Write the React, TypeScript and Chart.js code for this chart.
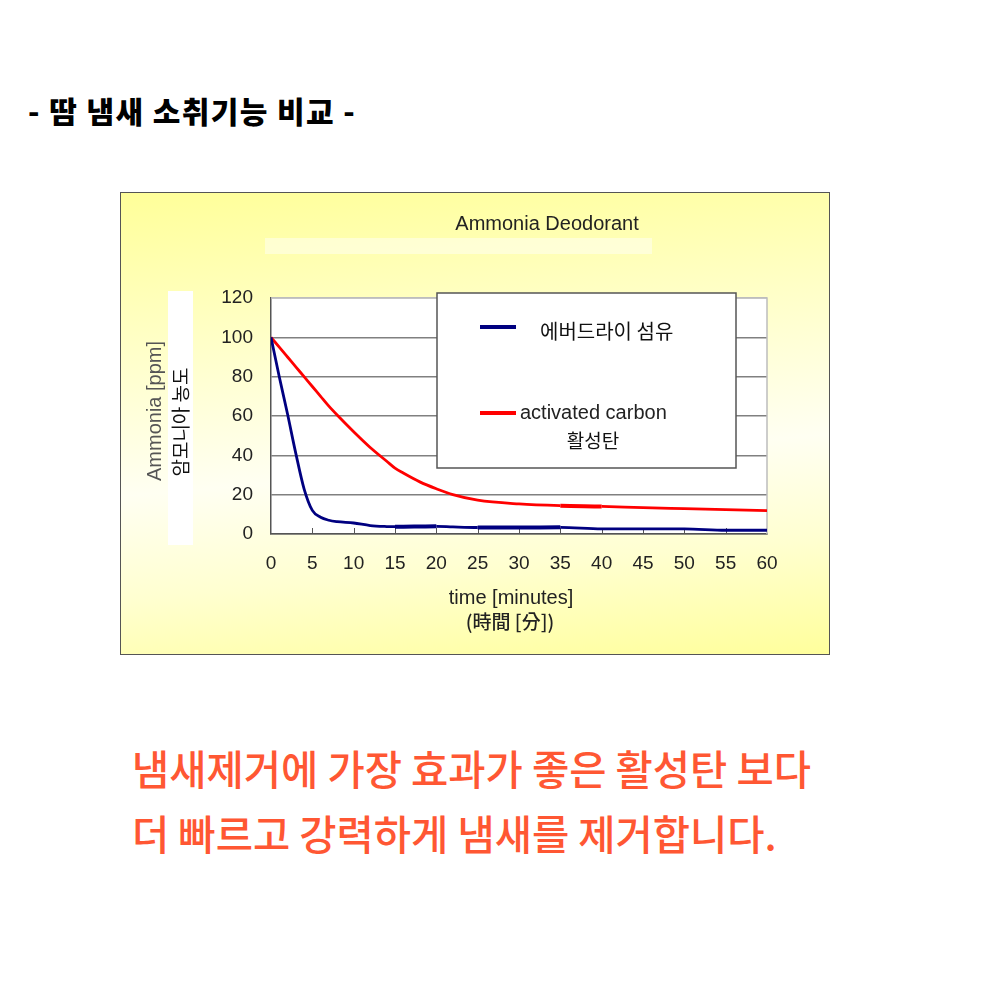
import React, { useEffect, useRef } from "react";
import { Chart, registerables } from "chart.js";

Chart.register(...registerables);

// ---- data ----
const timeMinutes = [0, 1, 2, 3, 4, 5, 6, 7, 8, 10, 12, 14, 15, 16, 18, 20, 22, 25, 30, 35, 40, 45, 50, 55, 60];
const everdryFiber = [100, 80, 61, 41, 23, 12, 8.5, 7, 6.3, 5.6, 4.3, 3.8, 3.7, 3.7, 3.8, 3.9, 3.6, 3.3, 3.3, 3.4, 2.6, 2.6, 2.6, 1.9, 1.9];
const activatedCarbon = [100, 95, 90, 85, 80, 75, 70, 65, 60.5, 52, 44, 37, 33.5, 31, 26.5, 23, 20, 17.2, 15.3, 14.4, 14, 13.4, 12.9, 12.4, 11.9];
const everdryThickSpans = [[15, 20], [25, 35]];
const carbonThickSpans = [[35, 40]];

const seriesNames = ["에버드라이 섬유", "activated carbon"];
const carbonSubName = "활성탄";
const chartTitle = "Ammonia Deodorant";
const yTitleEn = "Ammonia [ppm]";
const yTitleKo = "암모니아 농도";
const xTitleEn = "time [minutes]";
const xTitleCjk = "(時間 [分])";
const yMin = 0;
const yMax = 120;
const yStep = 20;
const xMin = 0;
const xMax = 60;
const xStep = 5;

const pageTitle = "- 땀 냄새 소취기능 비교 -";
const captionLines = ["냄새제거에 가장 효과가 좋은 활성탄 보다", "더 빠르고 강력하게 냄새를 제거합니다."];

const LATIN = "'Liberation Sans', Arial, 'Noto Sans CJK KR', sans-serif";
const KOREAN = "'Noto Sans CJK KR', 'Noto Sans', sans-serif";

const inSpans = (spans: number[][], a: number, b: number) =>
  spans.some(([s, e]) => a >= s && b <= e);

const decorPlugin = {
  id: "decor",
  beforeDraw(chart: any) {
    const { ctx, chartArea: a } = chart;
    ctx.save();
    // faint band under title
    ctx.fillStyle = "rgba(255,255,255,0.45)";
    ctx.fillRect(144, 45, 387, 16);
    // chart title
    ctx.font = `20px ${LATIN}`;
    ctx.fillStyle = "#222";
    ctx.textAlign = "center";
    ctx.textBaseline = "middle";
    ctx.fillText(chartTitle, 426, 31);
    // plot background
    ctx.fillStyle = "#ffffff";
    ctx.fillRect(a.left, a.top, a.right - a.left, a.bottom - a.top);
    // y title white box
    ctx.fillRect(47, 98, 25, 254);
    // y titles (rotated)
    ctx.save();
    ctx.translate(34, 218);
    ctx.rotate(-Math.PI / 2);
    ctx.font = `20px ${LATIN}`;
    ctx.fillStyle = "#555";
    ctx.fillText(yTitleEn, 0, 0);
    ctx.restore();
    ctx.save();
    ctx.translate(60, 229);
    ctx.rotate(-Math.PI / 2);
    ctx.font = `19px ${KOREAN}`;
    ctx.fillStyle = "#111";
    ctx.fillText(yTitleKo, 0, 0);
    ctx.restore();
    // x titles
    ctx.font = `20px ${LATIN}`;
    ctx.fillStyle = "#222";
    ctx.fillText(xTitleEn, 390, 405);
    ctx.font = `500 19px ${KOREAN}`;
    ctx.fillText(xTitleCjk, 389, 429);
    ctx.restore();
  },
  beforeDatasetsDraw(chart: any) {
    const { ctx, chartArea: a, scales } = chart;
    ctx.save();
    // top & right light border
    ctx.strokeStyle = "#bdbdbd";
    ctx.lineWidth = 1.5;
    ctx.beginPath();
    ctx.moveTo(a.left, a.top);
    ctx.lineTo(a.right, a.top);
    ctx.lineTo(a.right, a.bottom);
    ctx.stroke();
    // inside tick marks on x axis
    ctx.strokeStyle = "#555";
    ctx.lineWidth = 1;
    const xs = scales.x;
    xs.ticks.forEach((t: any) => {
      if (t.value <= xMin || t.value >= xMax) return;
      const px = Math.round(xs.getPixelForValue(t.value)) + 0.5;
      ctx.beginPath();
      ctx.moveTo(px, a.bottom);
      ctx.lineTo(px, a.bottom - 6);
      ctx.stroke();
    });
    ctx.restore();
  },
  afterDraw(chart: any) {
    const { ctx } = chart;
    const ds = chart.data.datasets;
    ctx.save();
    // legend box
    ctx.fillStyle = "#ffffff";
    ctx.fillRect(316, 100, 299, 175);
    ctx.strokeStyle = "#555";
    ctx.lineWidth = 1.5;
    ctx.strokeRect(316, 100, 299, 175);
    // entry 1
    ctx.lineWidth = 4;
    ctx.strokeStyle = ds[0].borderColor;
    ctx.beginPath();
    ctx.moveTo(359, 134);
    ctx.lineTo(395, 134);
    ctx.stroke();
    ctx.font = `20px ${KOREAN}`;
    ctx.fillStyle = "#111";
    ctx.textAlign = "left";
    ctx.textBaseline = "middle";
    ctx.fillText(ds[0].label, 419, 138);
    // entry 2
    ctx.strokeStyle = ds[1].borderColor;
    ctx.beginPath();
    ctx.moveTo(359, 220);
    ctx.lineTo(395, 220);
    ctx.stroke();
    ctx.font = `20px ${LATIN}`;
    ctx.fillStyle = "#222";
    ctx.fillText(ds[1].label, 399, 220);
    ctx.font = `19px ${KOREAN}`;
    ctx.fillStyle = "#111";
    ctx.textAlign = "center";
    ctx.fillText(carbonSubName, 472, 248);
    ctx.restore();
  },
};

export default function App() {
  const canvasRef = useRef<HTMLCanvasElement | null>(null);

  useEffect(() => {
    if (!canvasRef.current) return;
    const blue = "#000080";
    const red = "#ff0000";
    const chart = new Chart(canvasRef.current, {
      type: "line",
      data: {
        datasets: [
          {
            label: seriesNames[0],
            data: timeMinutes.map((t, i) => ({ x: t, y: everdryFiber[i] })),
            borderColor: blue,
            backgroundColor: blue,
            borderWidth: 2.8,
            pointRadius: 0,
            cubicInterpolationMode: "monotone",
            segment: {
              borderWidth: (c: any) => (inSpans(everdryThickSpans, c.p0.parsed.x, c.p1.parsed.x) ? 4 : 2.8),
            },
          },
          {
            label: seriesNames[1],
            data: timeMinutes.map((t, i) => ({ x: t, y: activatedCarbon[i] })),
            borderColor: red,
            backgroundColor: red,
            borderWidth: 2.8,
            pointRadius: 0,
            cubicInterpolationMode: "monotone",
            segment: {
              borderWidth: (c: any) => (inSpans(carbonThickSpans, c.p0.parsed.x, c.p1.parsed.x) ? 4 : 2.8),
            },
          },
        ],
      },
      options: {
        animation: false,
        responsive: false,
        maintainAspectRatio: false,
        layout: { padding: { left: 0, top: 105, right: 62, bottom: 0 } },
        plugins: {
          legend: { display: false },
          title: { display: false },
          tooltip: { enabled: false },
        },
        scales: {
          x: {
            type: "linear",
            min: xMin,
            max: xMax,
            afterFit: (s: any) => {
              s.height = 120;
            },
            ticks: {
              stepSize: xStep,
              padding: 18,
              color: "#222",
              font: { family: LATIN, size: 19 },
              maxRotation: 0,
            },
            grid: { display: false, drawTicks: false },
            border: { display: true, color: "#555", width: 1.5 },
            title: { display: false },
          },
          y: {
            type: "linear",
            min: yMin,
            max: yMax,
            afterFit: (s: any) => {
              s.width = 150;
            },
            ticks: {
              stepSize: yStep,
              padding: 18,
              color: "#222",
              font: { family: LATIN, size: 19 },
            },
            grid: {
              drawTicks: false,
              color: (c: any) => (c.tick && c.tick.value === yMax ? "#bdbdbd" : "#808080"),
              lineWidth: 1.5,
            },
            border: { display: true, color: "#555", width: 1.5 },
          },
        },
      },
      plugins: [decorPlugin],
    } as any);
    return () => chart.destroy();
  }, []);

  return (
    <div
      style={{
        position: "absolute",
        left: 0,
        top: 0,
        width: 1000,
        height: 1000,
        background: "#fff",
        overflow: "hidden",
      }}
    >
      <div
        style={{
          position: "absolute",
          left: 28,
          top: 94,
          fontFamily: KOREAN,
          fontWeight: 900,
          fontSize: 30,
          letterSpacing: "1.4px",
          lineHeight: "32px",
          color: "#000",
          whiteSpace: "pre",
        }}
      >
        {pageTitle}
      </div>
      <div
        style={{
          position: "absolute",
          left: 120,
          top: 192,
          width: 710,
          height: 463,
          border: "1px solid #555",
          boxSizing: "border-box",
          background:
            "linear-gradient(175deg, #ffff99 0%, #ffffc8 30%, #fffff2 58%, #ffffd0 78%, #ffff9c 100%)",
        }}
      >
        <canvas ref={canvasRef} width={708} height={461} style={{ display: "block", width: 708, height: 461 }} />
      </div>
      <div
        style={{
          position: "absolute",
          left: 132,
          top: 735,
          fontFamily: KOREAN,
          fontWeight: 500,
          fontSize: 40.5,
          lineHeight: "65px",
          color: "#ff5733",
          whiteSpace: "pre",
        }}
      >
        {captionLines.map((l, i) => (
          <div key={i}>{l}</div>
        ))}
      </div>
    </div>
  );
}
